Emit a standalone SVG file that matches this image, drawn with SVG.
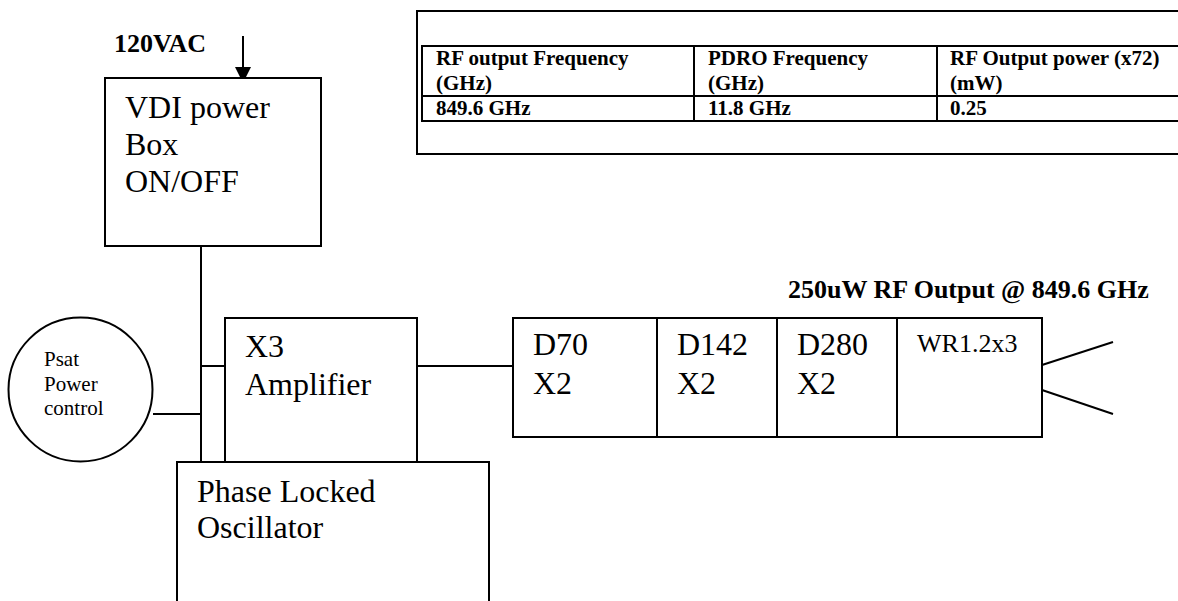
<svg xmlns="http://www.w3.org/2000/svg" width="1178" height="601" viewBox="0 0 1178 601">
<style>
.box{fill:#fff;stroke:#000;stroke-width:2}
.ln{fill:none;stroke:#000;stroke-width:2}
text{font-family:'Liberation Serif','Times New Roman',Times,serif;fill:#000}
.big{font-size:32px}
.bold{font-weight:bold}
.tb{font-weight:bold;font-size:21px}
</style>
<rect width="1178" height="601" fill="#fff"/>

<g id="table">
<rect class="box" x="417" y="11" width="800" height="143"/>
<rect class="ln" x="422" y="46" width="800" height="75"/>
<line class="ln" x1="422" y1="96" x2="1178" y2="96"/>
<line class="ln" x1="694" y1="46" x2="694" y2="121"/>
<line class="ln" x1="937" y1="46" x2="937" y2="121"/>
<text class="tb" font-family="Liberation Serif, serif" x="436" y="65">RF output Frequency</text>
<text class="tb" font-family="Liberation Serif, serif" x="436" y="90">(GHz)</text>
<text class="tb" font-family="Liberation Serif, serif" x="436" y="115">849.6 GHz</text>
<text class="tb" font-family="Liberation Serif, serif" x="708" y="65">PDRO Frequency</text>
<text class="tb" font-family="Liberation Serif, serif" x="708" y="90">(GHz)</text>
<text class="tb" font-family="Liberation Serif, serif" x="708" y="115">11.8 GHz</text>
<text class="tb" font-family="Liberation Serif, serif" x="950" y="65">RF Output power (x72)</text>
<text class="tb" font-family="Liberation Serif, serif" x="950" y="90">(mW)</text>
<text class="tb" font-family="Liberation Serif, serif" x="950" y="115">0.25</text>
</g>

<g id="connectors">
<line class="ln" x1="243" y1="36" x2="243" y2="70"/>
<polygon points="235,67 251,67 243,83" fill="#000"/>
<line class="ln" x1="201" y1="246" x2="201" y2="462"/>
<line class="ln" x1="201" y1="366" x2="225" y2="366"/>
<line class="ln" x1="153" y1="414" x2="201" y2="414"/>
<line class="ln" x1="417" y1="366" x2="513" y2="366"/>
<line class="ln" x1="1042" y1="365" x2="1113" y2="342"/>
<line class="ln" x1="1042" y1="390" x2="1113" y2="414"/>
</g>

<g id="label-120vac">
<text class="bold" font-family="Liberation Serif, serif" x="114" y="52" font-size="26">120VAC</text>
</g>

<g id="vdi-power-box">
<rect class="box" x="105" y="78" width="216" height="168"/>
<text class="big" font-family="Liberation Serif, serif" x="125" y="118">VDI power</text>
<text class="big" font-family="Liberation Serif, serif" x="125" y="155">Box</text>
<text class="big" font-family="Liberation Serif, serif" x="125" y="192">ON/OFF</text>
</g>

<g id="psat">
<circle cx="80.5" cy="389.5" r="72" fill="#fff" stroke="#000" stroke-width="2"/>
<text font-family="Liberation Serif, serif" x="44" y="366" font-size="21">Psat</text>
<text font-family="Liberation Serif, serif" x="44" y="391" font-size="21">Power</text>
<text font-family="Liberation Serif, serif" x="44" y="415" font-size="21">control</text>
</g>

<g id="amplifier">
<rect class="box" x="225" y="318" width="192" height="144"/>
<text class="big" font-family="Liberation Serif, serif" x="245" y="357">X3</text>
<text class="big" font-family="Liberation Serif, serif" x="245" y="395">Amplifier</text>
</g>

<g id="plo">
<path class="box" d="M177,602 L177,462 L489,462 L489,602"/>
<text class="big" font-family="Liberation Serif, serif" x="197" y="502">Phase Locked</text>
<text class="big" font-family="Liberation Serif, serif" x="197" y="538">Oscillator</text>
</g>

<g id="multiplier-chain">
<rect class="box" x="513" y="318" width="529" height="119"/>
<line class="ln" x1="657" y1="318" x2="657" y2="437"/>
<line class="ln" x1="777" y1="318" x2="777" y2="437"/>
<line class="ln" x1="897" y1="318" x2="897" y2="437"/>
<text class="big" font-family="Liberation Serif, serif" x="533" y="355">D70</text>
<text class="big" font-family="Liberation Serif, serif" x="533" y="394">X2</text>
<text class="big" font-family="Liberation Serif, serif" x="677" y="355">D142</text>
<text class="big" font-family="Liberation Serif, serif" x="677" y="394">X2</text>
<text class="big" font-family="Liberation Serif, serif" x="797" y="355">D280</text>
<text class="big" font-family="Liberation Serif, serif" x="797" y="394">X2</text>
<text font-family="Liberation Serif, serif" x="917" y="352" font-size="26">WR1.2x3</text>
</g>

<g id="label-output">
<text class="bold" font-family="Liberation Serif, serif" x="788" y="298" font-size="26">250uW RF Output @ 849.6 GHz</text>
</g>
</svg>
